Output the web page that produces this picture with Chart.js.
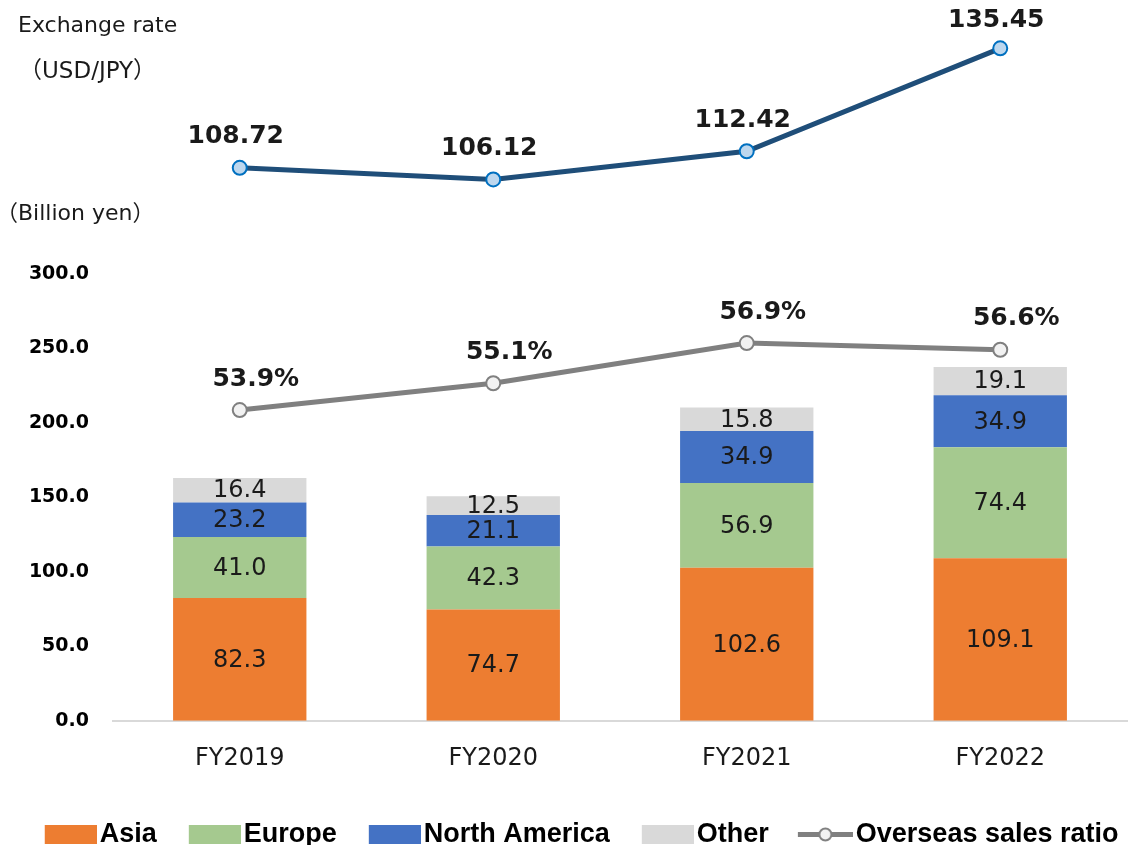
<!DOCTYPE html>
<html lang="en">
<head>
    <meta charset="UTF-8">
    <title>Overseas Sales by Region</title>
    <script src="https://cdn.jsdelivr.net/npm/chart.js"></script>
    <style>
        body {
            margin: 0;
            background: #ffffff;
            overflow: hidden;
            font-family: 'DejaVu Sans', 'Noto Sans CJK JP', sans-serif;
            color: #1a1a1a;
        }
        .wrap {
            position: relative;
            width: 1132px;
            height: 858px;
        }
        .note {
            position: absolute;
            font-size: 22px;
            line-height: 1;
            white-space: nowrap;
            color: #1a1a1a;
        }
    </style>
</head>
<body>
    <div class="wrap">
        <canvas id="salesChart"></canvas>
        <div class="note" style="left:18px; top:14px;">Exchange rate</div>
        <div class="note" style="left:19px; top:59px; font-size:23px;">（USD/JPY）</div>
        <div class="note" style="left:-4px; top:202px;">（Billion yen）</div>
    </div>

    <script>
        const years = ['FY2019', 'FY2020', 'FY2021', 'FY2022'];
        const asia = [82.3, 74.7, 102.6, 109.1];
        const europe = [41.0, 42.3, 56.9, 74.4];
        const northAmerica = [23.2, 21.1, 34.9, 34.9];
        const other = [16.4, 12.5, 15.8, 19.1];
        const overseasRatio = [53.9, 55.1, 56.9, 56.6];
        const exchangeRate = [108.72, 106.12, 112.42, 135.45];
        const yTicks = [0, 50, 100, 150, 200, 250, 300];

        const textColor = '#1a1a1a';
        const font = "'DejaVu Sans', 'Noto Sans CJK JP', sans-serif";

        // legend markers: wider than the slot so the swatch sits close to its text
        const slot = 65;
        const markW = slot + 21;
        function boxMarker(color) {
            const c = document.createElement('canvas');
            c.width = markW; c.height = 19;
            const g = c.getContext('2d');
            g.fillStyle = color;
            g.fillRect(markW - 52, 0, 52, 19);
            return c;
        }
        function lineMarker() {
            const c = document.createElement('canvas');
            c.width = markW; c.height = 19;
            const g = c.getContext('2d');
            const x0 = markW - 55, cx = markW - 27.5;
            g.strokeStyle = '#808080';
            g.lineWidth = 5;
            g.beginPath(); g.moveTo(x0, 9.5); g.lineTo(markW, 9.5); g.stroke();
            g.fillStyle = '#f2f2f2';
            g.lineWidth = 2;
            g.beginPath(); g.arc(cx, 9.5, 6, 0, Math.PI * 2); g.fill(); g.stroke();
            return c;
        }

        const valueLabels = {
            id: 'valueLabels',
            afterDatasetsDraw(chart) {
                const ctx = chart.ctx;
                chart.data.datasets.forEach((ds, i) => {
                    const meta = chart.getDatasetMeta(i);
                    meta.data.forEach((el, j) => {
                        const v = ds.data[j];
                        ctx.save();
                        ctx.textAlign = 'center';
                        ctx.textBaseline = 'middle';
                        ctx.fillStyle = textColor;
                        if (meta.type === 'bar') {
                            ctx.font = '24px ' + font;
                            ctx.fillText(v.toFixed(1), el.x, (el.y + el.base) / 2 + 1);
                        } else if (ds.yAxisID === 'yR') {
                            ctx.font = 'bold 25px ' + font;
                            ctx.fillText(v.toFixed(1) + '%', el.x + 16, el.y - 31);
                        } else {
                            ctx.font = 'bold 25px ' + font;
                            ctx.fillText(v.toFixed(2), el.x - 4, Math.max(el.y - 31, 20));
                        }
                        ctx.restore();
                    });
                });
            }
        };

        // chart area ends up spanning y=30..720 (chart.js keeps room above the top tick label);
        // 300 sits at y=270
        const areaTop = 30, areaBottom = 720;
        const h = areaBottom - areaTop;

        const ctx = document.getElementById('salesChart').getContext('2d');
        new Chart(ctx, {
            type: 'bar',
            data: {
                labels: years,
                datasets: [
                    {
                        type: 'line', label: 'Exchange rate', data: exchangeRate, yAxisID: 'yEx',
                        borderColor: '#1f4e79', borderWidth: 5, pointRadius: 7, pointBorderWidth: 2,
                        pointBackgroundColor: '#bdd7ee', pointBorderColor: '#0070c0', order: 0
                    },
                    {
                        type: 'line', label: 'Overseas sales ratio', data: overseasRatio, yAxisID: 'yR',
                        borderColor: '#808080', borderWidth: 5, pointRadius: 7, pointBorderWidth: 2,
                        pointBackgroundColor: '#f2f2f2', pointBorderColor: '#808080', order: 0
                    },
                    { label: 'Asia', data: asia, backgroundColor: '#ed7d31', stack: 's', order: 1 },
                    { label: 'Europe', data: europe, backgroundColor: '#a5c98f', stack: 's', order: 1 },
                    { label: 'North America', data: northAmerica, backgroundColor: '#4472c4', stack: 's', order: 1 },
                    { label: 'Other', data: other, backgroundColor: '#d9d9d9', stack: 's', order: 1 }
                ]
            },
            options: {
                responsive: true,
                maintainAspectRatio: false,
                animation: false,
                layout: { autoPadding: false, padding: { top: 20, right: 5, left: 0, bottom: 0 } },
                datasets: {
                    bar: { categoryPercentage: 1, barPercentage: 0.526 }
                },
                scales: {
                    x: {
                        stacked: true,
                        grid: { display: false, drawTicks: false },
                        border: { color: '#d9d9d9', width: 2 },
                        ticks: { color: textColor, padding: 24, font: { family: font, size: 24 } },
                        afterFit(scale) { scale.height += 15; }
                    },
                    y: {
                        stacked: true,
                        min: 0,
                        max: 300 * h / (areaBottom - 270),
                        grid: { display: false, drawTicks: false },
                        border: { display: false },
                        afterBuildTicks(scale) { scale.ticks = yTicks.map(v => ({ value: v })); },
                        afterFit(scale) { scale.width = 113; },
                        ticks: {
                            color: '#000',
                            padding: 24,
                            font: { family: font, size: 19, weight: 'bold' },
                            callback: v => v.toFixed(1)
                        }
                    },
                    yEx: {
                        display: false,
                        min: 106.12 - (areaBottom - 175) / 4.5,
                        max: 106.12 + (175 - areaTop) / 4.5
                    },
                    yR: {
                        display: false,
                        min: 40,
                        max: 40 + h / 22.5
                    }
                },
                plugins: {
                    tooltip: { enabled: false },
                    legend: {
                        position: 'bottom',
                        align: 'end',
                        labels: {
                            usePointStyle: true,
                            pointStyleWidth: slot,
                            padding: 8.5,
                            color: '#000',
                            font: { family: "'Liberation Sans', sans-serif", size: 27, weight: 'bold' },
                            generateLabels(chart) {
                                const markers = [boxMarker('#ed7d31'), boxMarker('#a5c98f'), boxMarker('#4472c4'), boxMarker('#d9d9d9'), lineMarker()];
                                const names = ['Asia', 'Europe', 'North America', 'Other', 'Overseas sales ratio'];
                                return names.map((n, k) => ({
                                    text: n, pointStyle: markers[k], fillStyle: 'transparent',
                                    strokeStyle: 'transparent', lineWidth: 0, hidden: false, fontColor: '#000'
                                }));
                            }
                        }
                    }
                }
            },
            plugins: [valueLabels]
        });
    </script>
</body>
</html>
